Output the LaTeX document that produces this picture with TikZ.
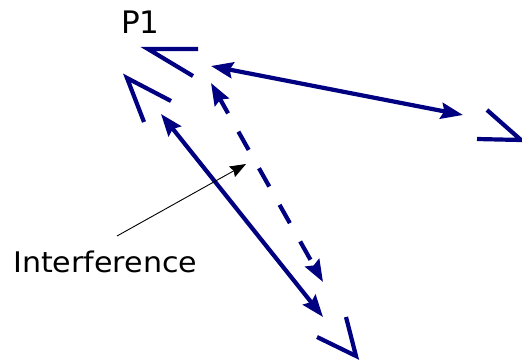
\documentclass[tikz,border=0pt]{standalone}
\usepackage{fontspec}
\setmainfont{DejaVu Sans}
\usetikzlibrary{arrows.meta}
\definecolor{navyc}{RGB}{0,0,128}
\tikzset{
  antenna/.style={draw=navyc, line width=4.2pt, line join=miter},
  link/.style={draw=navyc, line width=4.2pt, {Stealth[length=22pt,width=16pt,inset=3pt]}-{Stealth[length=22pt,width=16pt,inset=3pt]}},
  dashedlink/.style={link, dash pattern=on 21pt off 21pt, dash phase=4pt},
  pointer/.style={draw=black, line width=0.9pt, -{Stealth[length=16pt,width=12pt,inset=2pt]}},
  label/.style={inner sep=0pt, anchor=base west}
}
\begin{document}
\begin{tikzpicture}[x=1pt,y=-1pt]
\useasboundingbox (0,0) rectangle (522,360);
% antennas
\draw[antenna] (198,49) -- (148,49) -- (193,76);
\draw[antenna] (171,101) -- (127,78) -- (144,122);
\draw[antenna] (487,110) -- (521,140) -- (477,139);
\draw[antenna] (346,317) -- (356,356) -- (317,337);
% link end points
\coordinate (a1) at (211,66);
\coordinate (a2) at (463,115);
\coordinate (b1) at (211,83);
\coordinate (b2) at (323,282);
\coordinate (c1) at (161,114);
\coordinate (c2) at (323,317);
\draw[link] (a1) -- (a2);
\draw[dashedlink] (b1) -- (b2);
\draw[link] (c1) -- (c2);
% labels
\node[label, font=\fontsize{31}{31}\selectfont] (p1) at (121,33) {P1};
\node[label, font=\fontsize{28.4}{28.4}\selectfont, xscale=1.06] (intf) at (13,272) {Interference};
\coordinate (ptail) at (117,236);
\coordinate (phead) at (246,164);
\draw[pointer] (ptail) -- (phead);
\end{tikzpicture}
\end{document}
